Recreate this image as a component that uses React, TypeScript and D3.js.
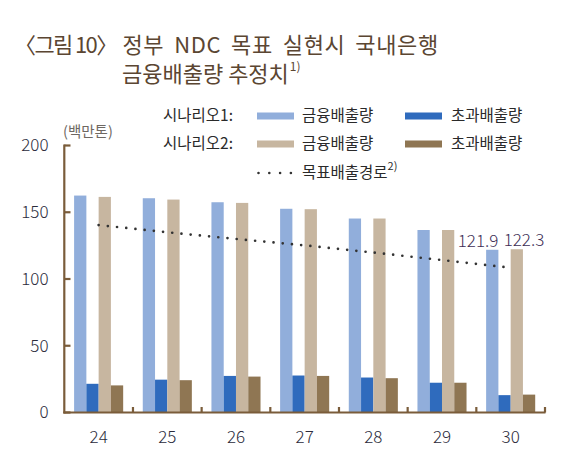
import React from "react";
import * as d3 from "d3";

const years = ["24", "25", "26", "27", "28", "29", "30"];
const s1Finance = [162.5, 160.5, 157.5, 152.6, 145.3, 136.7, 121.9];
const s1Excess = [21.5, 24.6, 27.4, 27.7, 26.2, 22.3, 13.0];
const s2Finance = [161.5, 159.5, 157.0, 152.3, 145.3, 136.7, 122.3];
const s2Excess = [20.3, 24.2, 26.9, 27.4, 25.7, 22.3, 13.4];
const targetPath = [140.4, 135.0, 130.0, 125.2, 119.8, 114.2, 108.4];
const yTicks = [0, 50, 100, 150, 200];

const seriesKeys = ["s1f", "s1e", "s2f", "s2e"];
const seriesValues: Record<string, number[]> = {
  s1f: s1Finance,
  s1e: s1Excess,
  s2f: s2Finance,
  s2e: s2Excess,
};
const colors: Record<string, string> = {
  s1f: "#91aedb",
  s1e: "#2f6bbd",
  s2f: "#c7b6a0",
  s2e: "#8f7653",
};

const AXIS = "#7a5c3a";
const FONT = "'Noto Sans CJK KR', 'Noto Sans', sans-serif";

export default function App() {
  const W = 570;
  const H = 454;
  const x = d3.scaleBand<string>().domain(years).range([64.3, 545]).padding(0);
  const bw = x.bandwidth();
  const inner = d3
    .scaleBand<string>()
    .domain(seriesKeys)
    .range([9.8, bw - 9.8])
    .padding(0);
  const y = d3.scaleLinear().domain([0, 200]).range([412.5, 145.5]);

  const line = d3
    .line<number>()
    .x((_, i) => (x(years[i]) as number) + bw / 2)
    .y((v) => y(v));

  const last = years.length - 1;
  const lastX = x(years[last]) as number;

  return (
    <svg width={W} height={H} style={{ display: "block", position: "absolute", left: 0, top: 0 }}>
      <rect width={W} height={H} fill="#fff" />
      {/* Title */}
      <g fontFamily={FONT} fill="#5b4632" fontSize={22}>
        <text x={14} y={53} letterSpacing={-1.6}>〈그림 10〉</text>
        <text x={122.5} y={53} letterSpacing={0.6} wordSpacing={4.5}>정부 NDC 목표 실현시 국내은행</text>
        <text x={122} y={81.5}>
          금융배출량 추정치
          <tspan fontSize={12} dx={1} dy={-11}>1)</tspan>
        </text>
      </g>

      {/* Legend */}
      <g fontFamily={FONT} fontSize={15.5} fill="#2a2a2a">
        <text x={163} y={121}>시나리오1:</text>
        <text x={163} y={149}>시나리오2:</text>
        <rect x={257} y={112.5} width={37} height={7} fill={colors.s1f} />
        <text x={302} y={121}>금융배출량</text>
        <rect x={405} y={112.5} width={37} height={7} fill={colors.s1e} />
        <text x={451} y={121}>초과배출량</text>
        <rect x={257} y={140.5} width={37} height={7} fill={colors.s2f} />
        <text x={302} y={149}>금융배출량</text>
        <rect x={405} y={140.5} width={37} height={7} fill={colors.s2e} />
        <text x={451} y={149}>초과배출량</text>
        <line
          x1={258.5}
          x2={292}
          y1={173}
          y2={173}
          stroke="#333"
          strokeWidth={2.6}
          strokeLinecap="round"
          strokeDasharray="0 10.8"
        />
        <text x={302} y={178}>
          목표배출경로
          <tspan fontSize={11} dy={-8}>2)</tspan>
        </text>
      </g>

      {/* Unit */}
      <text x={63} y={137} fontFamily={FONT} fontSize={14.5} fill="#6e6862">
        (백만톤)
      </text>

      {/* Bars */}
      {years.map((yr, i) => (
        <g key={yr} transform={`translate(${x(yr)},0)`}>
          {seriesKeys.map((k) => (
            <rect
              key={k}
              x={inner(k) as number}
              y={y(seriesValues[k][i])}
              width={inner.bandwidth()}
              height={y(0) - y(seriesValues[k][i])}
              fill={colors[k]}
            />
          ))}
        </g>
      ))}

      {/* Target path */}
      <path
        d={line(targetPath) as string}
        fill="none"
        stroke="#333"
        strokeWidth={2.7}
        strokeLinecap="round"
        strokeDasharray="0 9.25"
      />

      {/* Value labels */}
      <g fontFamily={FONT} fontSize={17} fill="#3d2d55" fontWeight={300}>
        <text
          x={lastX + (inner("s1f") as number) + inner.bandwidth()}
          y={y(s1Finance[last]) - 3}
          textAnchor="end"
        >
          {s1Finance[last].toFixed(1)}
        </text>
        <text x={lastX + (inner("s2f") as number) - 7} y={y(s2Finance[last]) - 3}>
          {s2Finance[last].toFixed(1)}
        </text>
      </g>

      {/* Axes */}
      <g stroke={AXIS} strokeWidth={2.2} fill="none">
        <line x1={64.3} x2={64.3} y1={y(200) - 1} y2={y(0) + 1} />
        <line x1={63.2} x2={545.5} y1={y(0)} y2={y(0)} />
        {yTicks.map((t) => (
          <line key={t} x1={64.3} x2={70.5} y1={y(t)} y2={y(t)} />
        ))}
        {years.map((yr) => {
          const xx = (x(yr) as number) + bw;
          return <line key={yr} x1={xx} x2={xx} y1={y(0)} y2={y(0) - 5.5} />;
        })}
      </g>

      {/* Tick labels */}
      <g fontFamily={FONT} fontSize={17} fill="#2b2b3b" fontWeight={300}>
        {yTicks.map((t) => (
          <text key={t} x={48.5} y={y(t)} dy="0.35em" textAnchor="end">
            {t}
          </text>
        ))}
        {years.map((yr) => (
          <text key={yr} x={(x(yr) as number) + bw / 2} y={442.5} textAnchor="middle">
            {yr}
          </text>
        ))}
      </g>
    </svg>
  );
}
